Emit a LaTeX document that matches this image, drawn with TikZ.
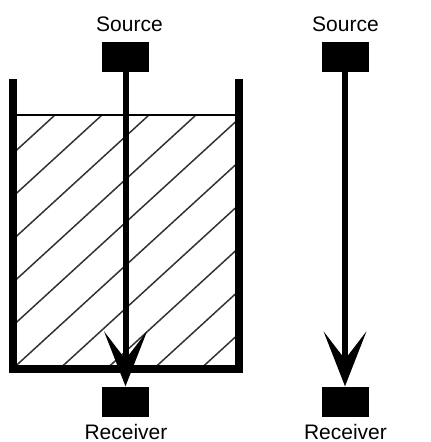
\documentclass[tikz,border=0pt]{standalone}
\usepackage{fontspec}
\setmainfont{Liberation Sans}
\usetikzlibrary{arrows.meta}
\begin{document}
\begin{tikzpicture}[x=1pt,y=-1pt,
  device/.style={fill=black, inner sep=0pt, minimum width=47pt, minimum height=30pt},
  devlabel/.style={inner sep=0pt, font=\fontsize{21}{25}\selectfont},
  ray/.style={line width=6pt,
    -{Stealth[length=55pt 0, width=43pt 0, inset=28pt 0, line width=0pt]}},
  wall/.style={line width=8pt, line join=miter},
  hatch/.style={line width=1.5pt, black!80},
  surface/.style={line width=1.2pt}
]
\useasboundingbox (0,0) rectangle (431,442);

% liquid-filled tank: hatching, surface and walls
\begin{scope}
  \clip (17,115) rectangle (235,365);
  \foreach \x in {55,102,149,196,243,290,337,384,431,478}
    \draw[hatch] (\x,115) -- ++(-300,274.5);
\end{scope}
\draw[surface] (17,115) -- (235,115);
\draw[wall] (13,79) -- (13,369) -- (239,369) -- (239,79);

% path through the tank
\node[device] (src1) at (125.5,57) {};
\node[device] (rcv1) at (125.5,401.5) {};
\node[devlabel] (srcL1) at (129.5,24.5) {Source};
\node[devlabel] (rcvL1) at (126,431.5) {Receiver};
\draw[ray] (src1.south) -- (rcv1.north);

% reference path without the tank
\node[device] (src2) at (345,57) {};
\node[device] (rcv2) at (345,401.5) {};
\node[devlabel] (srcL2) at (345.5,24.5) {Source};
\node[devlabel] (rcvL2) at (345.5,431.5) {Receiver};
\draw[ray] (src2.south) -- (rcv2.north);
\end{tikzpicture}
\end{document}
